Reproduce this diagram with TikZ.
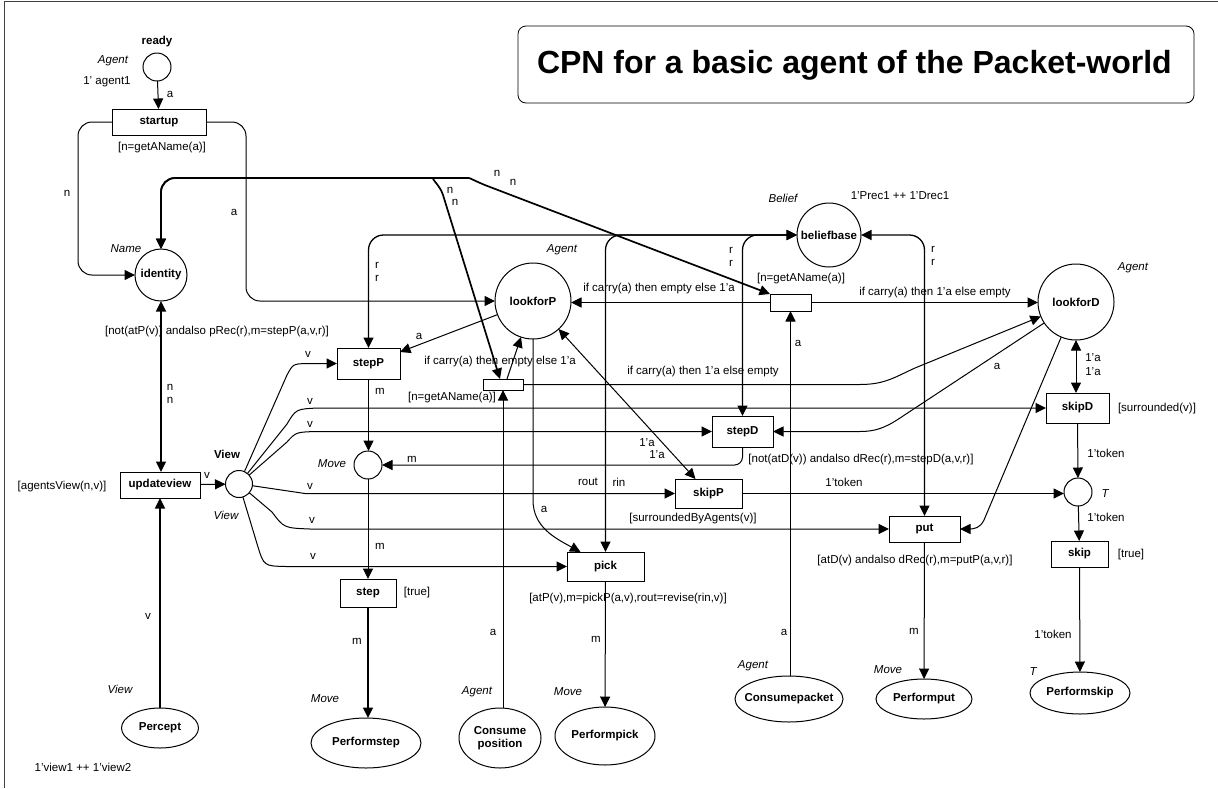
\documentclass[tikz,border=0pt]{standalone}
\usepackage{fontspec}
\setmainfont{Liberation Sans}
\usetikzlibrary{arrows.meta,shapes.geometric}
\begin{document}
\begin{tikzpicture}[x=1pt,y=-1pt,
  every node/.style={inner sep=0pt,outer sep=0pt},
  lbl/.style={font=\fontsize{11.5}{13.5}\selectfont},
  typ/.style={font=\fontsize{11.5}{13.5}\selectfont\itshape},
  nm/.style={font=\fontsize{11.5}{13.5}\selectfont\bfseries},
  place/.style={circle,draw,line width=1pt,nm},
  trans/.style={rectangle,draw,line width=1pt,nm},
  port/.style={ellipse,draw,line width=1pt,nm,align=center},
  >={Triangle[length=10.5pt,width=10pt]},
  arc/.style={line width=1pt,->},
  biarc/.style={line width=1pt,<->},
  heavy/.style={line width=1.7pt},
]
\useasboundingbox (0,0) rectangle (1218,788);
% frame and title
\draw[line width=0.8pt,black!75] (4.5,788) -- (4.5,1) -- (1218,1);
\node[draw,rounded corners=8pt,line width=0.8pt,minimum width=676pt,minimum height=77pt,anchor=north west] (titlebox) at (518,26) {};
\node[font=\fontsize{32}{36}\selectfont\bfseries,anchor=west] (title) at (537,65) {CPN for a basic agent of the Packet-world};

% places
\node[place,minimum size=28pt] (ready) at (157,67) {};
\node[place,minimum size=52pt] (identity) at (161,275) {identity};
\node[place,minimum size=76pt] (lookforP) at (533,301) {lookforP};
\node[place,minimum size=64pt] (beliefbase) at (829,235) {beliefbase};
\node[place,minimum size=76pt] (lookforD) at (1076,302) {lookforD};
\node[place,minimum size=27pt] (view) at (239,484) {};
\node[place,minimum size=28pt] (move) at (368,465) {};
\node[place,minimum size=28pt] (tplace) at (1078,492) {};

% transitions
\node[trans,minimum width=94pt,minimum height=26pt] (startup) at (159,122) {startup};
\node[trans,minimum width=40pt,minimum height=11pt] (tA) at (503,384.5) {};
\node[trans,minimum width=41pt,minimum height=17pt] (tB) at (790.5,302.5) {};
\node[trans,minimum width=63pt,minimum height=31pt] (stepP) at (368.5,363.5) {stepP};
\node[trans,minimum width=61pt,minimum height=31pt] (stepD) at (742.5,431.5) {stepD};
\node[trans,minimum width=67pt,minimum height=29pt] (skipP) at (708.5,493.5) {skipP};
\node[trans,minimum width=63pt,minimum height=30pt] (skipD) at (1077.5,408) {skipD};
\node[trans,minimum width=80pt,minimum height=26pt] (updateview) at (160,485) {updateview};
\node[trans,minimum width=56pt,minimum height=28pt] (stepT) at (368,593) {step};
\node[trans,minimum width=77pt,minimum height=29pt] (pick) at (605.5,566.5) {pick};
\node[trans,minimum width=71pt,minimum height=26pt] (put) at (924.5,529) {put};
\node[trans,minimum width=57pt,minimum height=26pt] (skip) at (1079.5,554) {skip};

% port places
\node[port,minimum width=77pt,minimum height=40pt] (percept) at (160,728) {Percept};
\node[port,minimum width=110pt,minimum height=50pt] (pstep) at (366,743) {Performstep};
\node[port,minimum width=82pt,minimum height=60pt] (cpos) at (500,738) {Consume\\position};
\node[port,minimum width=100pt,minimum height=58pt] (ppick) at (605,736) {Performpick};
\node[port,minimum width=108pt,minimum height=46pt] (cpack) at (789,699) {\makebox[60pt]{Consumepacket}};
\node[port,minimum width=96pt,minimum height=40pt] (pput) at (924,699) {Performput};
\node[port,minimum width=100pt,minimum height=42pt] (pskip) at (1080,693) {Performskip};

% arcs around startup
\draw[arc] (ready) -- (startup);
\draw[arc,rounded corners=14pt] (startup.west) -- (78,122) -- (78,275) -- (identity.west);
\draw[arc,rounded corners=14pt] (startup.east) -- (246,122) -- (246,301) -- (lookforP.west);

% identity arcs
\draw[biarc,heavy] (identity.north) [rounded corners=14pt] -- (161,178) -- (420,178) [sharp corners]
  .. controls (430,178) and (440,185) .. (443,195) -- ([xshift=-3pt]tA.north);
\draw[biarc,heavy] (identity.north) [rounded corners=14pt] -- (161,178) -- (455,178) [sharp corners]
  .. controls (470,178) and (479,183) .. (490,187) -- (tB.north west);
\draw[biarc,heavy] (identity.south) -- (identity.south |- updateview.north);
\draw[arc,heavy] (percept) -- (updateview);
\draw[arc] (updateview) -- (view);

% arcs leaving View
\draw[arc] (view) -- (287,375) .. controls (293,364) .. (306,363.5) -- (stepP.west);
\draw[arc] (view) -- (287,424) .. controls (296,409) .. (318,408) -- (skipD.west);
\draw[arc] (view) -- (287,442) .. controls (296,432) .. (318,431.5) -- (stepD.west);
\draw[arc] (view) .. controls (278,489) .. (305,493.5) -- (skipP.west);
\draw[arc] (view) -- (272,512) .. controls (284,528) .. (310,529) -- (put.west);
\draw[arc] (view) -- (258,547) .. controls (264,566) .. (286,566.5) -- (pick.west);

% lookforP side
\draw[arc] (lookforP) -- ([yshift=-4pt]stepP.north east);
\draw[arc] (stepP.south) -- (stepP.south |- move.north);
\draw[arc,rounded corners=8pt] (stepD.south) -- (stepD.south |- move.east) -- (move.east);
\draw[arc] (move.south) -- (move.south |- stepT.north);
\draw[arc,heavy] (stepT.south) -- (stepT.south |- pstep.north);
\draw[arc] (lookforP.south) -- (533,500) .. controls (533,527) and (555,538) .. ([xshift=-25pt]pick.north);
\draw[arc] (pick) -- (ppick);
\draw[arc] (cpos.north -| tA.south) -- (tA.south);
\draw[arc] (cpack.north -| tB.south) -- (tB.south);
\draw[arc] ([xshift=4pt]tA.north) -- (lookforP);
\draw[arc] (tA.east) -- (860,384.5) .. controls (885,384.5) and (895,377) .. (915,368) -- (lookforD);
\draw[arc] (tB.west) -- (tB.west -| lookforP.east);
\draw[arc] (tB.east) -- (tB.east -| lookforD.west);
\draw[biarc] (lookforP) -- ([xshift=-13pt]skipP.north);

% belief base arcs
\draw[biarc,line width=1.3pt,rounded corners=15pt] (beliefbase.west) -- (beliefbase.west -| stepP.north) -- (stepP.north);
\draw[biarc,line width=1.3pt,rounded corners=15pt] (beliefbase.west) -- (beliefbase.west -| stepD.north) -- (stepD.north);
\draw[biarc,line width=1.3pt,rounded corners=15pt] (beliefbase.west) -- (beliefbase.west -| pick.north) -- (pick.north);
\draw[biarc,line width=1.3pt,rounded corners=15pt] (beliefbase.east) -- (beliefbase.east -| put.north) -- (put.north);

% lookforD side
\draw[biarc] (lookforD.south) -- (lookforD.south |- skipD.north);
\draw[arc] (lookforD) -- (900,418) .. controls (885,428) and (875,431.5) .. (860,431.5) -- (stepD.east);
\draw[arc] (lookforD) -- (984,520) .. controls (980,528) and (975,529) .. (968,529) -- (put.east);
\draw[arc] (skipD) -- (tplace);
\draw[arc] (skipP.east) -- (skipP.east -| tplace.west);
\draw[arc] (tplace) -- (skip);
\draw[arc] (skip) -- (pskip);
\draw[arc] (put) -- (pput);

% inscriptions
\node[nm] (lready) at (157,42) {ready};
\node[typ] (cready) at (113,61) {Agent};
\node[lbl] (iready) at (107,82) {1' agent1};
\node[lbl] (a1) at (170,94) {a};
\node[lbl] (gstart) at (162,148) {[n=getAName(a)]};
\node[lbl] (n1) at (67,193) {n};
\node[lbl] (a2) at (234,212) {a};
\node[typ] (cident) at (126,249) {Name};
\node[lbl] (n2) at (450,190) {n};
\node[lbl] (n3) at (455,202) {n};
\node[lbl] (n4) at (497,173) {n};
\node[lbl] (n5) at (513,182) {n};
\node[typ] (cbelief) at (783,198) {Belief};
\node[lbl] (ibelief) at (900,196) {1'Prec1 ++ 1'Drec1};
\node[lbl] (r1) at (377,265) {r};
\node[lbl] (r2) at (377,278) {r};
\node[lbl] (r3) at (731,250) {r};
\node[lbl] (r4) at (731,263) {r};
\node[lbl] (r5) at (933,249) {r};
\node[lbl] (r6) at (933,262) {r};
\node[typ] (clfp) at (562,250) {Agent};
\node[lbl] (gtB) at (801,279) {[n=getAName(a)]};
\node[lbl] (e1) at (659,289) {if carry(a) then empty else 1'a};
\node[lbl] (e2) at (935,293) {if carry(a) then 1'a else empty};
\node[typ] (clfd) at (1133,268) {Agent};
\node[lbl] (gstepP) at (217,332) {[not(atP(v)) andalso pRec(r),m=stepP(a,v,r)]};
\node[lbl] (a3) at (419,336) {a};
\node[lbl] (a4) at (798,343) {a};
\node[lbl] (s1) at (1093,358) {1'a};
\node[lbl] (s2) at (1093,372) {1'a};
\node[lbl] (e3) at (500,362) {if carry(a) then empty else 1'a};
\node[lbl] (a5) at (997,366) {a};
\node[lbl] (e4) at (703,372) {if carry(a) then 1'a else empty};
\node[lbl] (n6) at (170,387) {n};
\node[lbl] (n7) at (170,400) {n};
\node[lbl] (m1) at (380,391) {m};
\node[lbl] (gtA) at (452,398) {[n=getAName(a)]};
\node[lbl] (v1) at (308,354) {v};
\node[lbl] (v2) at (310,401) {v};
\node[lbl] (v3) at (310,424) {v};
\node[lbl] (v4) at (310,486) {v};
\node[lbl] (v5) at (312,520) {v};
\node[lbl] (v6) at (313,556) {v};
\node[lbl] (gskipD) at (1157,409) {[surrounded(v)]};
\node[lbl] (s3) at (647,443) {1'a};
\node[lbl] (s4) at (657,455) {1'a};
\node[lbl] (k1) at (1106,453) {1'token};
\node[nm] (lview) at (227,454) {View};
\node[lbl] (m2) at (412,459) {m};
\node[lbl] (gstepD) at (861,460) {[not(atD(v)) andalso dRec(r),m=stepD(a,v,r)]};
\node[typ] (cmove) at (332,464) {Move};
\node[lbl] (gupd) at (62,487) {[agentsView(n,v)]};
\node[lbl] (v7) at (207,475) {v};
\node[lbl] (rout) at (588,482) {rout};
\node[lbl] (rin) at (619,482) {rin};
\node[lbl] (k2) at (844,482) {1'token};
\node[typ] (ctp) at (1105,494) {T};
\node[lbl] (a6) at (544,509) {a};
\node[typ] (cview) at (226,515) {View};
\node[lbl] (gskipP) at (693,519) {[surroundedByAgents(v)]};
\node[lbl] (k3) at (1106,517) {1'token};
\node[lbl] (m3) at (380,546) {m};
\node[lbl] (gskip) at (1131,555) {[true]};
\node[lbl] (gput) at (915,561) {[atD(v) andalso dRec(r),m=putP(a,v,r)]};
\node[lbl] (gstep) at (417,593) {[true]};
\node[lbl] (gpick) at (628,599) {[atP(v),m=pickP(a,v),rout=revise(rin,v)]};
\node[lbl] (v8) at (148,616) {v};
\node[lbl] (a7) at (493,632) {a};
\node[lbl] (a8) at (784,632) {a};
\node[lbl] (m4) at (357,641) {m};
\node[lbl] (m5) at (596,639) {m};
\node[lbl] (m6) at (914,631) {m};
\node[lbl] (k4) at (1053,634) {1'token};
\node[typ] (cpercept) at (120,689) {View};
\node[typ] (cpstep) at (325,699) {Move};
\node[typ] (ccpos) at (477,692) {Agent};
\node[typ] (cppick) at (568,692) {Move};
\node[typ] (ccpack) at (753,666) {Agent};
\node[typ] (cpput) at (888,670) {Move};
\node[typ] (cpskip) at (1033,672) {T};
\node[lbl] (ipercept) at (83,767) {1'view1 ++ 1'view2};
\end{tikzpicture}
\end{document}
